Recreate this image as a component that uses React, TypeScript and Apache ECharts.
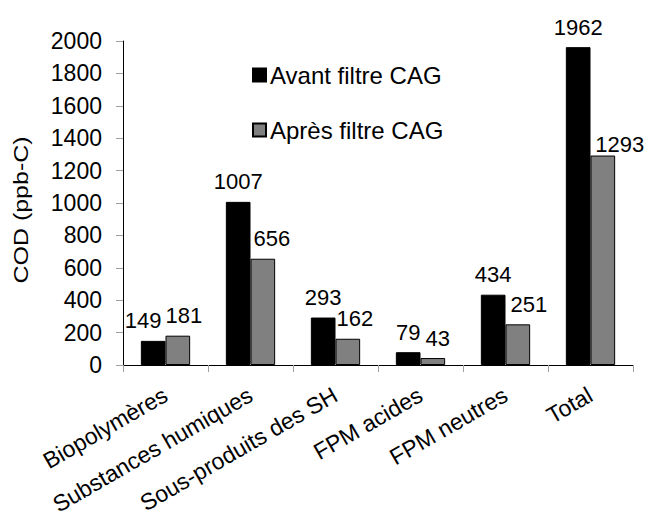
import React, { useEffect, useRef } from "react";
import * as echarts from "echarts";

const categories = [
  "Biopolymères",
  "Substances humiques",
  "Sous-produits des SH",
  "FPM acides",
  "FPM neutres",
  "Total",
];
const avantFiltre = [149, 1007, 293, 79, 434, 1962];
const apresFiltre = [181, 656, 162, 43, 251, 1293];
const seriesNames = ["Avant filtre CAG", "Après filtre CAG"];
const yAxisTitle = "COD (ppb-C)";

// Label nudges so neighbouring value labels don't collide with each other or the bars
const avantLabelOffsets = [[-10, 0], [0, 0], [0, 0], [0, 0], [0, 0], [0, 0]];
const apresLabelOffsets = [[6, 0], [9, 0], [7, 0], [5, 0], [11, 0], [17, 9]];

const FONT = "Arial, 'Liberation Sans', sans-serif";

export default function App() {
  const ref = useRef<HTMLDivElement>(null);

  useEffect(() => {
    if (!ref.current) return;
    const chart = echarts.init(ref.current, undefined, { renderer: "svg" });
    const valueLabel = {
      show: true,
      position: "top" as const,
      distance: 9,
      color: "#000",
      fontSize: 22,
      fontFamily: FONT,
    };
    const withOffsets = (values: number[], offsets: number[][]) =>
      values.map((v, i) => ({ value: v, label: { offset: offsets[i] } }));

    chart.setOption({
      animation: false,
      backgroundColor: "#fff",
      textStyle: { fontFamily: FONT },
      grid: { left: 123, right: 17, top: 41, bottom: 153, containLabel: false },
      legend: {
        orient: "vertical",
        left: 252,
        top: 63,
        padding: 0,
        itemWidth: 13,
        itemHeight: 13,
        itemGap: 31,
        icon: "rect",
        textStyle: { fontSize: 24, color: "#000", fontFamily: FONT, padding: [0, 0, 0, -1] },
        data: seriesNames,
      },
      graphic: [
        {
          type: "text",
          x: 21,
          y: 210,
          rotation: Math.PI / 2,
          scaleX: 1.25,
          style: {
            text: yAxisTitle,
            fontSize: 20,
            fontFamily: FONT,
            fill: "#000",
            align: "center",
            verticalAlign: "middle",
          },
        },
      ],
      xAxis: {
        type: "category",
        data: categories,
        axisLine: { lineStyle: { color: "#000", width: 1 } },
        axisTick: { show: true, length: 7, lineStyle: { color: "#a0a0a0" } },
        axisLabel: {
          rotate: 30,
          interval: 0,
          margin: 28,
          fontSize: 23,
          color: "#000",
          fontFamily: FONT,
        },
      },
      yAxis: {
        type: "value",
        min: 0,
        max: 2000,
        interval: 200,
        axisLine: { show: true, lineStyle: { color: "#000", width: 1 } },
        axisTick: { show: true, length: 7, lineStyle: { color: "#a0a0a0" } },
        splitLine: { show: false },
        axisLabel: {
          margin: 21,
          fontSize: 23,
          color: "#000",
          fontFamily: FONT,
          formatter: (v: number) => String(v),
        },
      },
      series: [
        {
          name: seriesNames[0],
          type: "bar",
          data: withOffsets(avantFiltre, avantLabelOffsets),
          barGap: "0%",
          barCategoryGap: "42%",
          itemStyle: { color: "#000", borderColor: "#000", borderWidth: 1 },
          label: valueLabel,
        },
        {
          name: seriesNames[1],
          type: "bar",
          data: withOffsets(apresFiltre, apresLabelOffsets),
          itemStyle: { color: "#808080", borderColor: "#000", borderWidth: 1 },
          label: valueLabel,
        },
      ],
    });
    return () => chart.dispose();
  }, []);

  return (
    <div
      ref={ref}
      style={{ position: "fixed", left: 0, top: 0, width: 650, height: 518, background: "#fff" }}
    />
  );
}
